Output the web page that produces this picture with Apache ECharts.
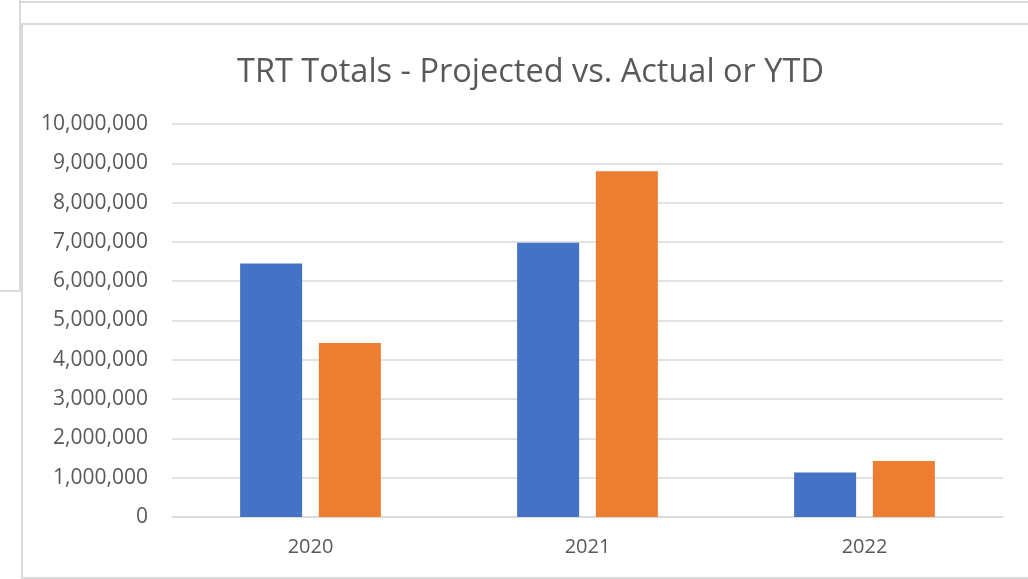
<!DOCTYPE html>
<html>
<head>
<meta charset="utf-8">
<script src="https://cdn.jsdelivr.net/npm/echarts@6/dist/echarts.min.js"></script>
<style>
  html, body { margin: 0; padding: 0; background: #fff; }
  #chart { width: 1028px; height: 579px; }
</style>
</head>
<body>
<div id="chart"></div>
<script>
const years = ['2020', '2021', '2022']
const projected = [6450000, 6980000, 1130000]
const actual = [4430000, 8800000, 1425000]
const titleText = 'TRT Totals - Projected vs. Actual or YTD'

const textColor = '#595959'
const lineColor = '#d9d9d9'
const font = 'Open Sans'

const chart = echarts.init(document.getElementById('chart'))

// sheet cell borders around the chart object
const border = (x1, y1, x2, y2) => ({
  type: 'line',
  silent: true,
  shape: { x1, y1, x2, y2 },
  style: { stroke: lineColor, lineWidth: 2 }
})

chart.setOption({
  animation: false,
  backgroundColor: '#fff',
  title: {
    text: titleText,
    left: 232,
    top: 51,
    textStyle: { fontFamily: font, fontSize: 32.5, fontWeight: 'normal', color: textColor }
  },
  graphic: [
    border(20, 0, 20, 291),
    border(0, 291, 20, 291),
    border(20, 2, 1028, 2),
    border(20, 24, 1028, 24),
    border(22, 24, 22, 579),
    border(22, 578, 1028, 578)
  ],
  grid: { left: 172, right: 25, top: 124, bottom: 62, containLabel: false },
  xAxis: {
    type: 'category',
    data: years,
    axisLine: { lineStyle: { color: lineColor, width: 1.5 } },
    axisTick: { show: false },
    axisLabel: { fontFamily: font, fontSize: 20, color: textColor, margin: 20 }
  },
  yAxis: {
    type: 'value',
    min: 0,
    max: 10000000,
    interval: 1000000,
    axisLine: { show: false },
    axisTick: { show: false },
    splitLine: { lineStyle: { color: lineColor, width: 1.5 } },
    axisLabel: {
      fontFamily: font,
      fontSize: 21,
      color: textColor,
      margin: 24,
      formatter: (v) => v.toLocaleString('en-US')
    }
  },
  series: [
    {
      name: 'Projected',
      type: 'bar',
      data: projected,
      barWidth: 62,
      barGap: '27%',
      itemStyle: { color: '#4472c4' }
    },
    {
      name: 'Actual or YTD',
      type: 'bar',
      data: actual,
      barWidth: 62,
      itemStyle: { color: '#ed7d31' }
    }
  ]
})
</script>
</body>
</html>
